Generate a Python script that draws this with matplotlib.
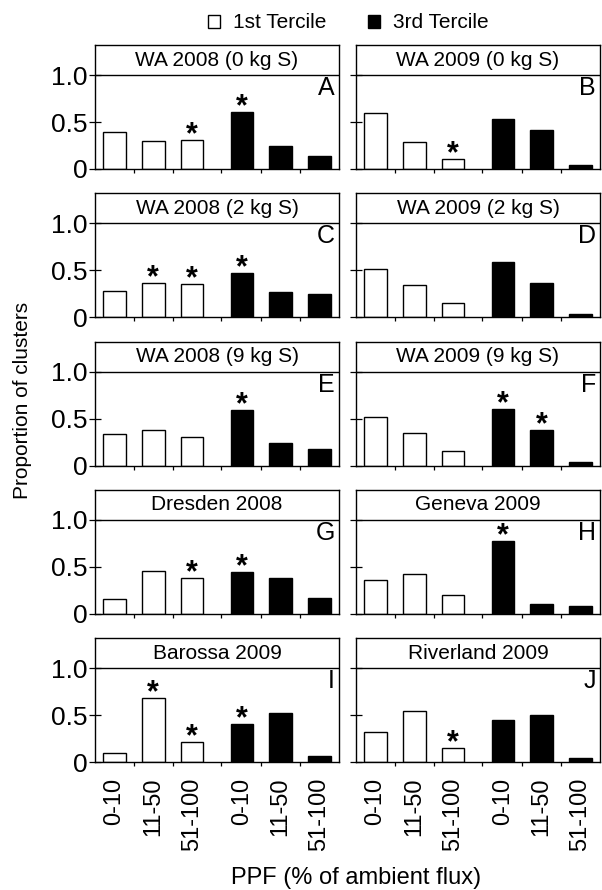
import matplotlib
matplotlib.use("Agg")
import matplotlib.pyplot as plt
from matplotlib.patches import Patch

plt.rcParams['font.family'] = ['Liberation Sans', 'DejaVu Sans']

# panel titles and letters, in reading order (left column, right column)
titles = ['WA 2008 (0 kg S)', 'WA 2009 (0 kg S)',
          'WA 2008 (2 kg S)', 'WA 2009 (2 kg S)',
          'WA 2008 (9 kg S)', 'WA 2009 (9 kg S)',
          'Dresden 2008', 'Geneva 2009',
          'Barossa 2009', 'Riverland 2009']
letters = ['A', 'B', 'C', 'D', 'E', 'F', 'G', 'H', 'I', 'J']
categories = ['0-10', '11-50', '51-100']

# proportion of clusters per PPF class
first_tercile = [
    [0.39, 0.30, 0.31], [0.60, 0.29, 0.11],
    [0.28, 0.37, 0.35], [0.51, 0.34, 0.15],
    [0.34, 0.38, 0.30], [0.52, 0.35, 0.16],
    [0.16, 0.46, 0.38], [0.36, 0.43, 0.205],
    [0.10, 0.68, 0.22], [0.32, 0.55, 0.15],
]
third_tercile = [
    [0.61, 0.24, 0.14], [0.53, 0.42, 0.04],
    [0.47, 0.27, 0.25], [0.59, 0.37, 0.03],
    [0.59, 0.24, 0.18], [0.60, 0.38, 0.04],
    [0.445, 0.38, 0.17], [0.78, 0.11, 0.085],
    [0.41, 0.52, 0.07], [0.45, 0.505, 0.04],
]
# bars (0-5) marked with an asterisk
stars = [[2, 3], [2], [1, 2, 3], [], [3], [3, 4], [2, 3], [3], [1, 2, 3], [2]]

xpos = [0, 1, 2, 3.28, 4.28, 5.28]
W, H = 602, 890
fig = plt.figure(figsize=(W / 100, H / 100), dpi=100)

for i in range(10):
    row, col = i // 2, i % 2
    y0 = 169 + row * 148.3          # pixel row of the zero line
    left = 95 if col == 0 else 356
    ax = fig.add_axes([left / W, (H - y0) / H, 244 / W, 124 / H])
    vals = first_tercile[i] + third_tercile[i]
    ax.bar(xpos[:3], first_tercile[i], width=0.58, color='white',
           edgecolor='black', linewidth=1.0, zorder=2)
    ax.bar(xpos[3:], third_tercile[i], width=0.58, color='black',
           edgecolor='black', linewidth=1.0, zorder=2)
    for s in stars[i]:
        ax.text(xpos[s], vals[s] - 0.035, '*', ha='center', va='baseline',
                fontsize=22, fontweight='bold', zorder=3)
    # title strip
    ax.axhline(1.0, color='black', lw=1.0)
    ax.text(2.64, 1.16, titles[i], ha='center', va='center', fontsize=15)
    ax.annotate(letters[i], xy=(1, 1.0), xycoords=('axes fraction', 'data'),
                xytext=(-4, -1), textcoords='offset pixels',
                ha='right', va='top', fontsize=18)
    ax.set_xlim(-0.5, 5.78)
    ax.set_ylim(0, 1.32)
    ax.set_yticks([0, 0.5, 1.0])
    ax.set_xticks(xpos)
    ax.set_xticks([0.5, 1.5, 2.75, 3.78, 4.78], minor=True)
    ax.tick_params(axis='x', which='major', length=0, pad=11, labelsize=17)
    ax.tick_params(axis='x', which='minor', length=3, direction='out', width=0.9)
    ax.tick_params(axis='y', length=9, direction='inout', width=0.9, pad=1.0,
                   labelsize=19)
    if row == 4:
        ax.set_xticklabels(categories + categories, rotation=90)
    else:
        ax.set_xticklabels([])
    if col == 0:
        ax.set_yticklabels(['0', '0.5', '1.0'])
    else:
        ax.set_yticklabels([])
    for sp in ax.spines.values():
        sp.set_linewidth(1.0)

fig.text(22 / W, 1 - 400 / H, 'Proportion of clusters', rotation=90,
         ha='center', va='center', fontsize=15)
fig.text(356 / W, 12 / H, 'PPF (% of ambient flux)', ha='center',
         va='center', fontsize=17)

handles = [Patch(facecolor='white', edgecolor='black', linewidth=1.0),
           Patch(facecolor='black', edgecolor='black', linewidth=1.0)]
fig.legend(handles, ['1st Tercile', '3rd Tercile'], ncol=2, frameon=False,
           loc='center', bbox_to_anchor=(348 / W, 1 - 23 / H), fontsize=15,
           handlelength=0.6, handleheight=0.6, handletextpad=0.6,
           columnspacing=2.0, borderpad=0)

fig.savefig('out.png', dpi=100)
